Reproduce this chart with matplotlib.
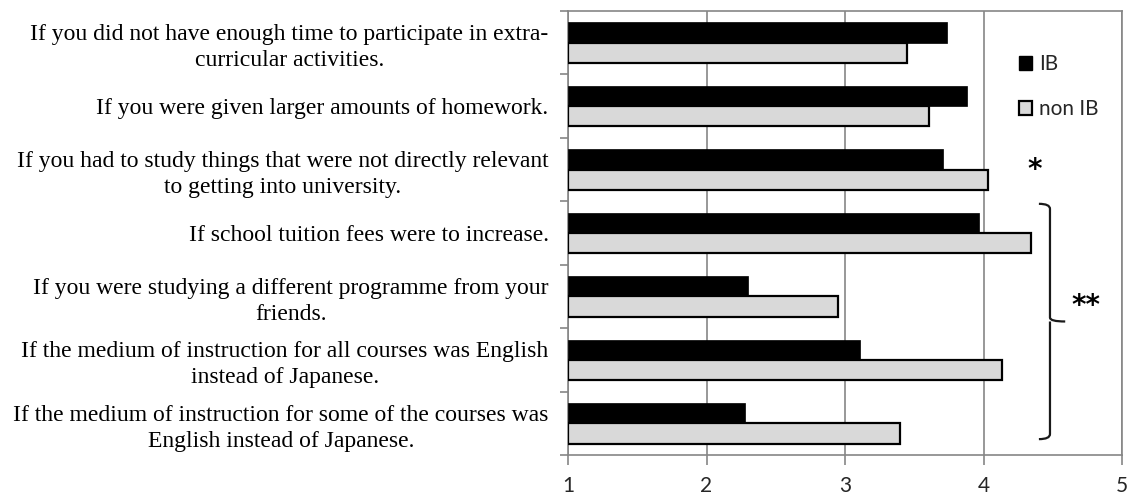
import matplotlib
matplotlib.use("Agg")
import matplotlib.pyplot as plt
from matplotlib.path import Path
from matplotlib.patches import PathPatch, Patch
import numpy as np

categories = [
    "If you did not have enough time to participate in extra-\ncurricular activities.",
    "If you were given larger amounts of homework.",
    "If you had to study things that were not directly relevant\nto getting into university.",
    "If school tuition fees were to increase.",
    "If you were studying a different programme from your\nfriends.",
    "If the medium of instruction for all courses was English\ninstead of Japanese.",
    "If the medium of instruction for some of the courses was\nEnglish instead of Japanese.",
]
ib_values = [3.74, 3.88, 3.71, 3.97, 2.30, 3.11, 2.28]
non_ib_values = [3.45, 3.61, 4.03, 4.34, 2.95, 4.13, 3.40]
x_ticks = [1, 2, 3, 4, 5]

grid_col = "#868686"
text_col = "#262626"
fill_non_ib = "#d9d9d9"

fig = plt.figure(figsize=(11.31, 4.97), dpi=100)
ax = fig.add_axes([568 / 1131, 1 - 455 / 497, (1122 - 568) / 1131, (455 - 11) / 497])

y = np.arange(len(categories))
h = 0.32
ax.barh(y - h / 2, [v - 1 for v in ib_values], left=1, height=h,
        color="black", edgecolor="black", linewidth=0.5, zorder=3, label="IB")
ax.barh(y + h / 2, [v - 1 for v in non_ib_values], left=1, height=h,
        color=fill_non_ib, edgecolor="black", linewidth=1.6, zorder=3, label="non IB")

ax.set_xlim(1, 5)
ax.set_ylim(len(categories) - 0.5, -0.5)
ax.set_xticks(x_ticks)
ax.set_xticklabels([str(t) for t in x_ticks], fontsize=15, family="Lato", color=text_col)
ax.tick_params(axis="x", direction="out", length=7, width=1.2, color=grid_col, pad=8)

# category boundaries carry the y ticks; labels go at centres
ax.set_yticks(np.arange(-0.5, len(categories), 1.0))
ax.set_yticklabels([])
ax.set_yticks(y, minor=True)
ax.set_yticklabels(categories, minor=True, family="Liberation Serif", fontsize=17,
                   color="black", ha="right", multialignment="center", linespacing=1.3)
ax.tick_params(axis="y", which="major", direction="out", length=6, width=1.2, color=grid_col)
ax.tick_params(axis="y", which="minor", length=0, pad=14)

ax.grid(axis="x", color=grid_col, linewidth=1.2, zorder=0)
for s in ax.spines.values():
    s.set_color(grid_col)
    s.set_linewidth(1.2)

leg = ax.legend(handles=[Patch(facecolor="black", edgecolor="black", label="IB"),
                         Patch(facecolor=fill_non_ib, edgecolor="black", linewidth=1.6, label="non IB")],
                loc="upper left", bbox_to_anchor=(0.78, 0.945), frameon=False,
                handlelength=0.65, handleheight=0.65, handletextpad=0.3, labelspacing=1.2,
                prop={"family": "Lato", "size": 15})
for t in leg.get_texts():
    t.set_color(text_col)

# significance markers
ax.text(4.37, 2.0, "*", fontsize=20, fontweight="bold", ha="center", va="center",
        family="DejaVu Sans")
ax.text(4.74, 4.15, "**", fontsize=20, fontweight="bold", ha="center", va="center",
        family="DejaVu Sans")

# curly bracket grouping the last four items
xl, top, bot = 4.48, 2.54, 6.25
mid = (top + bot) / 2
verts = [(4.40, top), (4.48, top), (xl, top + 0.08),
         (xl, mid - 0.06), (xl, mid), (4.59, mid),
         (xl, mid), (xl, mid + 0.06),
         (xl, bot - 0.08), (4.48, bot), (4.40, bot)]
codes = [Path.MOVETO, Path.CURVE3, Path.CURVE3,
         Path.LINETO, Path.CURVE3, Path.LINETO,
         Path.MOVETO, Path.LINETO,
         Path.LINETO, Path.CURVE3, Path.CURVE3]
ax.add_patch(PathPatch(Path(verts, codes), facecolor="none", edgecolor="#1a1a1a",
                       linewidth=1.6, clip_on=False, zorder=4))

fig.savefig("out.png", dpi=100)
